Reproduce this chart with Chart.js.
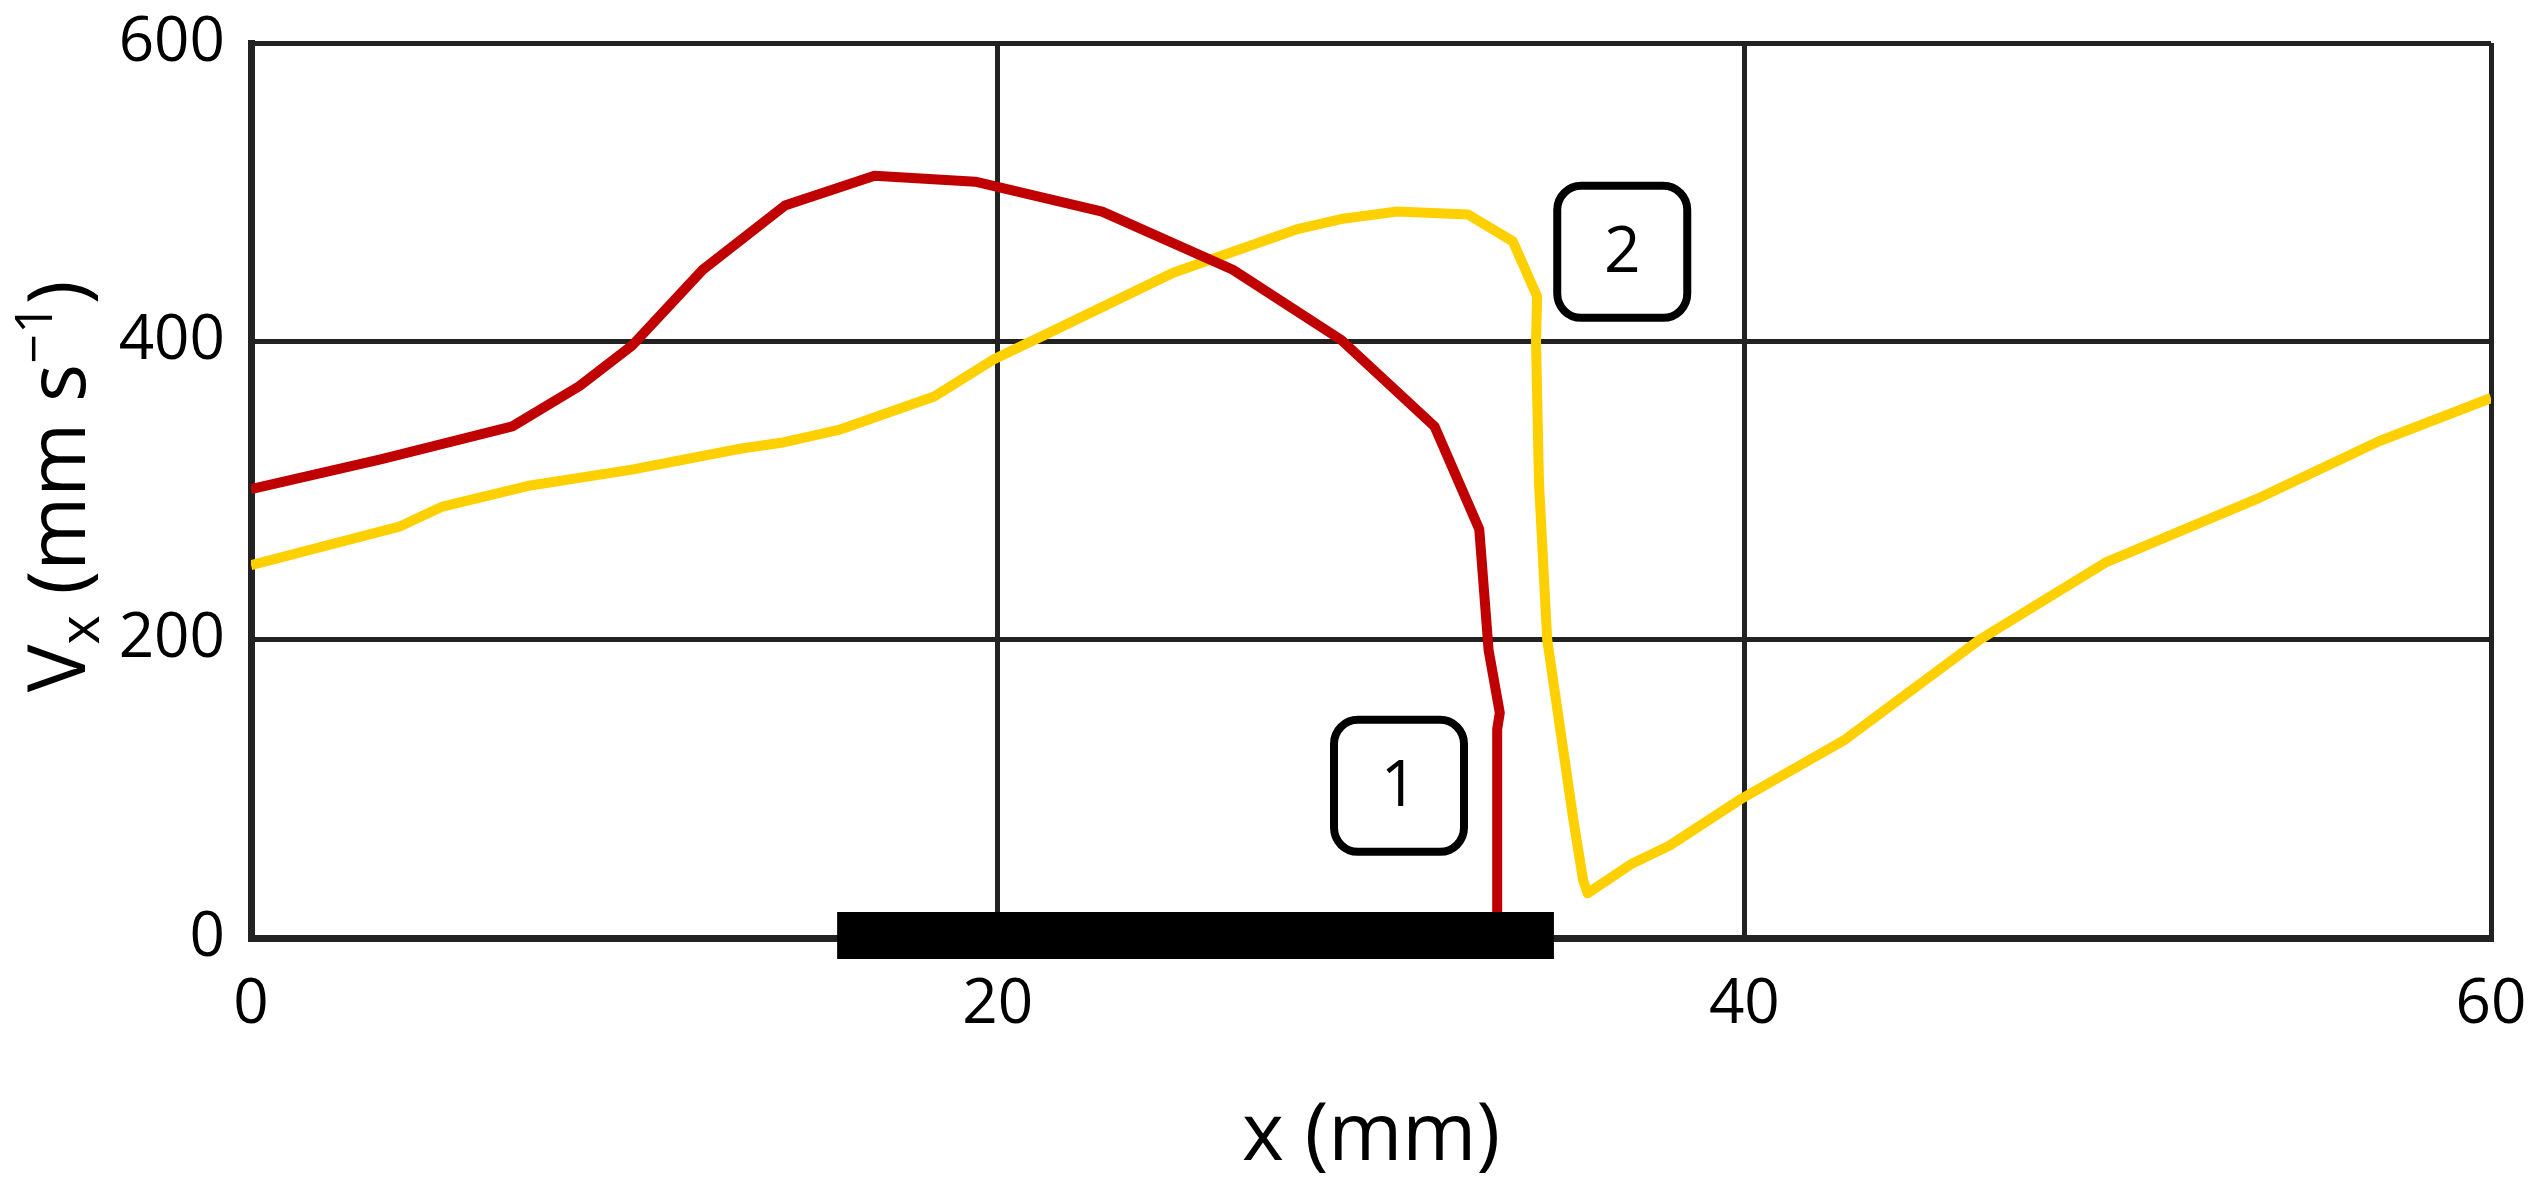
<!DOCTYPE html>
<html>
<head>
<meta charset="utf-8">
<script src="https://cdn.jsdelivr.net/npm/chart.js@4.4.1/dist/chart.umd.min.js"></script>
<style>
  html, body { margin: 0; padding: 0; background: #ffffff; }
  #wrap { width: 2541px; height: 1195px; position: relative; }
  canvas { display: block; }
</style>
</head>
<body>
<div id="wrap"><canvas id="c" width="2541" height="1195"></canvas></div>
<script>
// ---- data ----
const curve1X = [0, 3.5, 7.0, 8.8, 10.2, 12.1, 14.3, 16.7, 19.4, 22.8, 26.3, 29.2, 31.7, 32.9, 33.15, 33.45, 33.38, 33.38];
const curve1V = [301, 321, 343, 370, 397, 448, 491, 511, 507, 487, 448, 401, 343, 274, 193, 151, 140, 0];

const curve2X = [0, 4.0, 5.1, 7.4, 10.2, 13.1, 14.2, 15.8, 18.3, 19.9, 21.4, 24.7, 28.0, 29.2, 30.7, 32.6, 33.8, 34.45, 34.42, 34.5, 34.72, 35.15, 35.41, 35.68, 35.8, 37.0, 38.0, 39.9, 42.7, 46.3, 49.7, 53.7, 57.0, 60];
const curve2V = [250, 276, 289, 303, 314, 328, 332, 341, 363, 388, 406, 446, 475, 482, 487, 485, 467, 430, 400, 305, 200, 126, 81, 39, 30, 50, 62, 93, 133, 200, 252, 294, 333, 362];

const substrateX = [15.7, 34.9];
const substrateV = [1.7, 1.7];

const boxLabels = ['1', '2'];
const boxX = [30.75, 36.73];
const boxV = [102, 460];

const xTicks = [0, 20, 40, 60];
const yTicks = [0, 200, 400, 600];
const xTitle = 'x (mm)';
const yTitleParts = ['V', 'x', ' (mm s', '\u22121', ')'];

// ---- helpers ----
const pts = (xs, vs) => xs.map((x, i) => ({ x: x, y: vs[i] }));
const FONT = '"Open Sans", "Noto Sans", "DejaVu Sans", sans-serif';

const boxPlugin = {
  id: 'boxes',
  afterDatasetsDraw(chart) {
    const ctx = chart.ctx;
    const xs = chart.scales.x, ys = chart.scales.y;
    const w = 130, h = 132, r = 24;
    ctx.save();
    boxLabels.forEach((lab, i) => {
      const cx = xs.getPixelForValue(boxX[i]);
      const cy = ys.getPixelForValue(boxV[i]);
      ctx.beginPath();
      ctx.roundRect(cx - w / 2, cy - h / 2, w, h, r);
      ctx.fillStyle = '#ffffff';
      ctx.fill();
      ctx.lineWidth = 8;
      ctx.strokeStyle = '#000000';
      ctx.stroke();
      ctx.fillStyle = '#000000';
      ctx.font = '64px ' + FONT;
      ctx.textAlign = 'center';
      ctx.textBaseline = 'middle';
      ctx.fillText(lab, cx, cy + 2);
    });
    ctx.restore();
  }
};

const yTitlePlugin = {
  id: 'ytitle',
  afterDraw(chart) {
    const ctx = chart.ctx;
    const area = chart.chartArea;
    const segs = [
      { t: yTitleParts[0], s: 80, dy: 0 },
      { t: yTitleParts[1], s: 56, dy: 14 },
      { t: yTitleParts[2], s: 80, dy: 0 },
      { t: yTitleParts[3], s: 52, dy: -33 },
      { t: yTitleParts[4], s: 80, dy: 0 }
    ];
    ctx.save();
    let total = 0;
    segs.forEach(g => { ctx.font = g.s + 'px ' + FONT; g.w = ctx.measureText(g.t).width; total += g.w; });
    const cy = (area.top + area.bottom) / 2 - 4;
    ctx.translate(85, cy);
    ctx.rotate(-Math.PI / 2);
    ctx.fillStyle = '#000000';
    ctx.textBaseline = 'alphabetic';
    ctx.textAlign = 'left';
    let x = -total / 2;
    segs.forEach(g => {
      ctx.font = g.s + 'px ' + FONT;
      ctx.fillText(g.t, x, g.dy);
      x += g.w;
    });
    ctx.restore();
  }
};

const gridColor = '#222222';

new Chart(document.getElementById('c'), {
  type: 'scatter',
  data: {
    datasets: [
      {
        label: 'substrate',
        data: pts(substrateX, substrateV),
        showLine: true,
        borderColor: '#000000',
        borderWidth: 47,
        borderCapStyle: 'butt',
        pointRadius: 0,
        clip: false,
        order: 0
      },
      {
        label: '1',
        data: pts(curve1X, curve1V),
        showLine: true,
        borderColor: '#c00000',
        borderWidth: 10,
        borderJoinStyle: 'round',
        borderCapStyle: 'butt',
        pointRadius: 0,
        tension: 0,
        order: 1
      },
      {
        label: '2',
        data: pts(curve2X, curve2V),
        showLine: true,
        borderColor: '#ffd000',
        borderWidth: 10,
        borderJoinStyle: 'round',
        borderCapStyle: 'butt',
        pointRadius: 0,
        tension: 0,
        order: 2
      }
    ]
  },
  options: {
    responsive: false,
    animation: false,
    events: [],
    layout: { padding: { left: 119, right: 50, top: 43, bottom: 0 } },
    plugins: { legend: { display: false }, tooltip: { enabled: false } },
    scales: {
      x: {
        type: 'linear',
        min: 0, max: 60,
        afterBuildTicks: (s) => { s.ticks = xTicks.map(v => ({ value: v })); },
        afterFit: (s) => { s.height = 257; s.paddingLeft = 0; s.paddingRight = 0; },
        ticks: { color: '#000000', font: { family: FONT, size: 62 }, padding: 30, maxRotation: 0 },
        grid: { color: gridColor, lineWidth: 5, drawTicks: false },
        border: { color: gridColor, width: 7 },
        title: { display: true, text: xTitle, color: '#000000', font: { family: FONT, size: 80 }, padding: { top: 46, bottom: 10 } }
      },
      y: {
        type: 'linear',
        min: 0, max: 600,
        afterBuildTicks: (s) => { s.ticks = yTicks.map(v => ({ value: v })); },
        afterFit: (s) => { s.width = 132; s.paddingTop = 0; s.paddingBottom = 0; },
        ticks: { color: '#000000', font: { family: FONT, size: 62 }, padding: 26 },
        grid: { color: gridColor, lineWidth: 5, drawTicks: false },
        border: { color: gridColor, width: 7 }
      }
    }
  },
  plugins: [boxPlugin, yTitlePlugin]
});
</script>
</body>
</html>
